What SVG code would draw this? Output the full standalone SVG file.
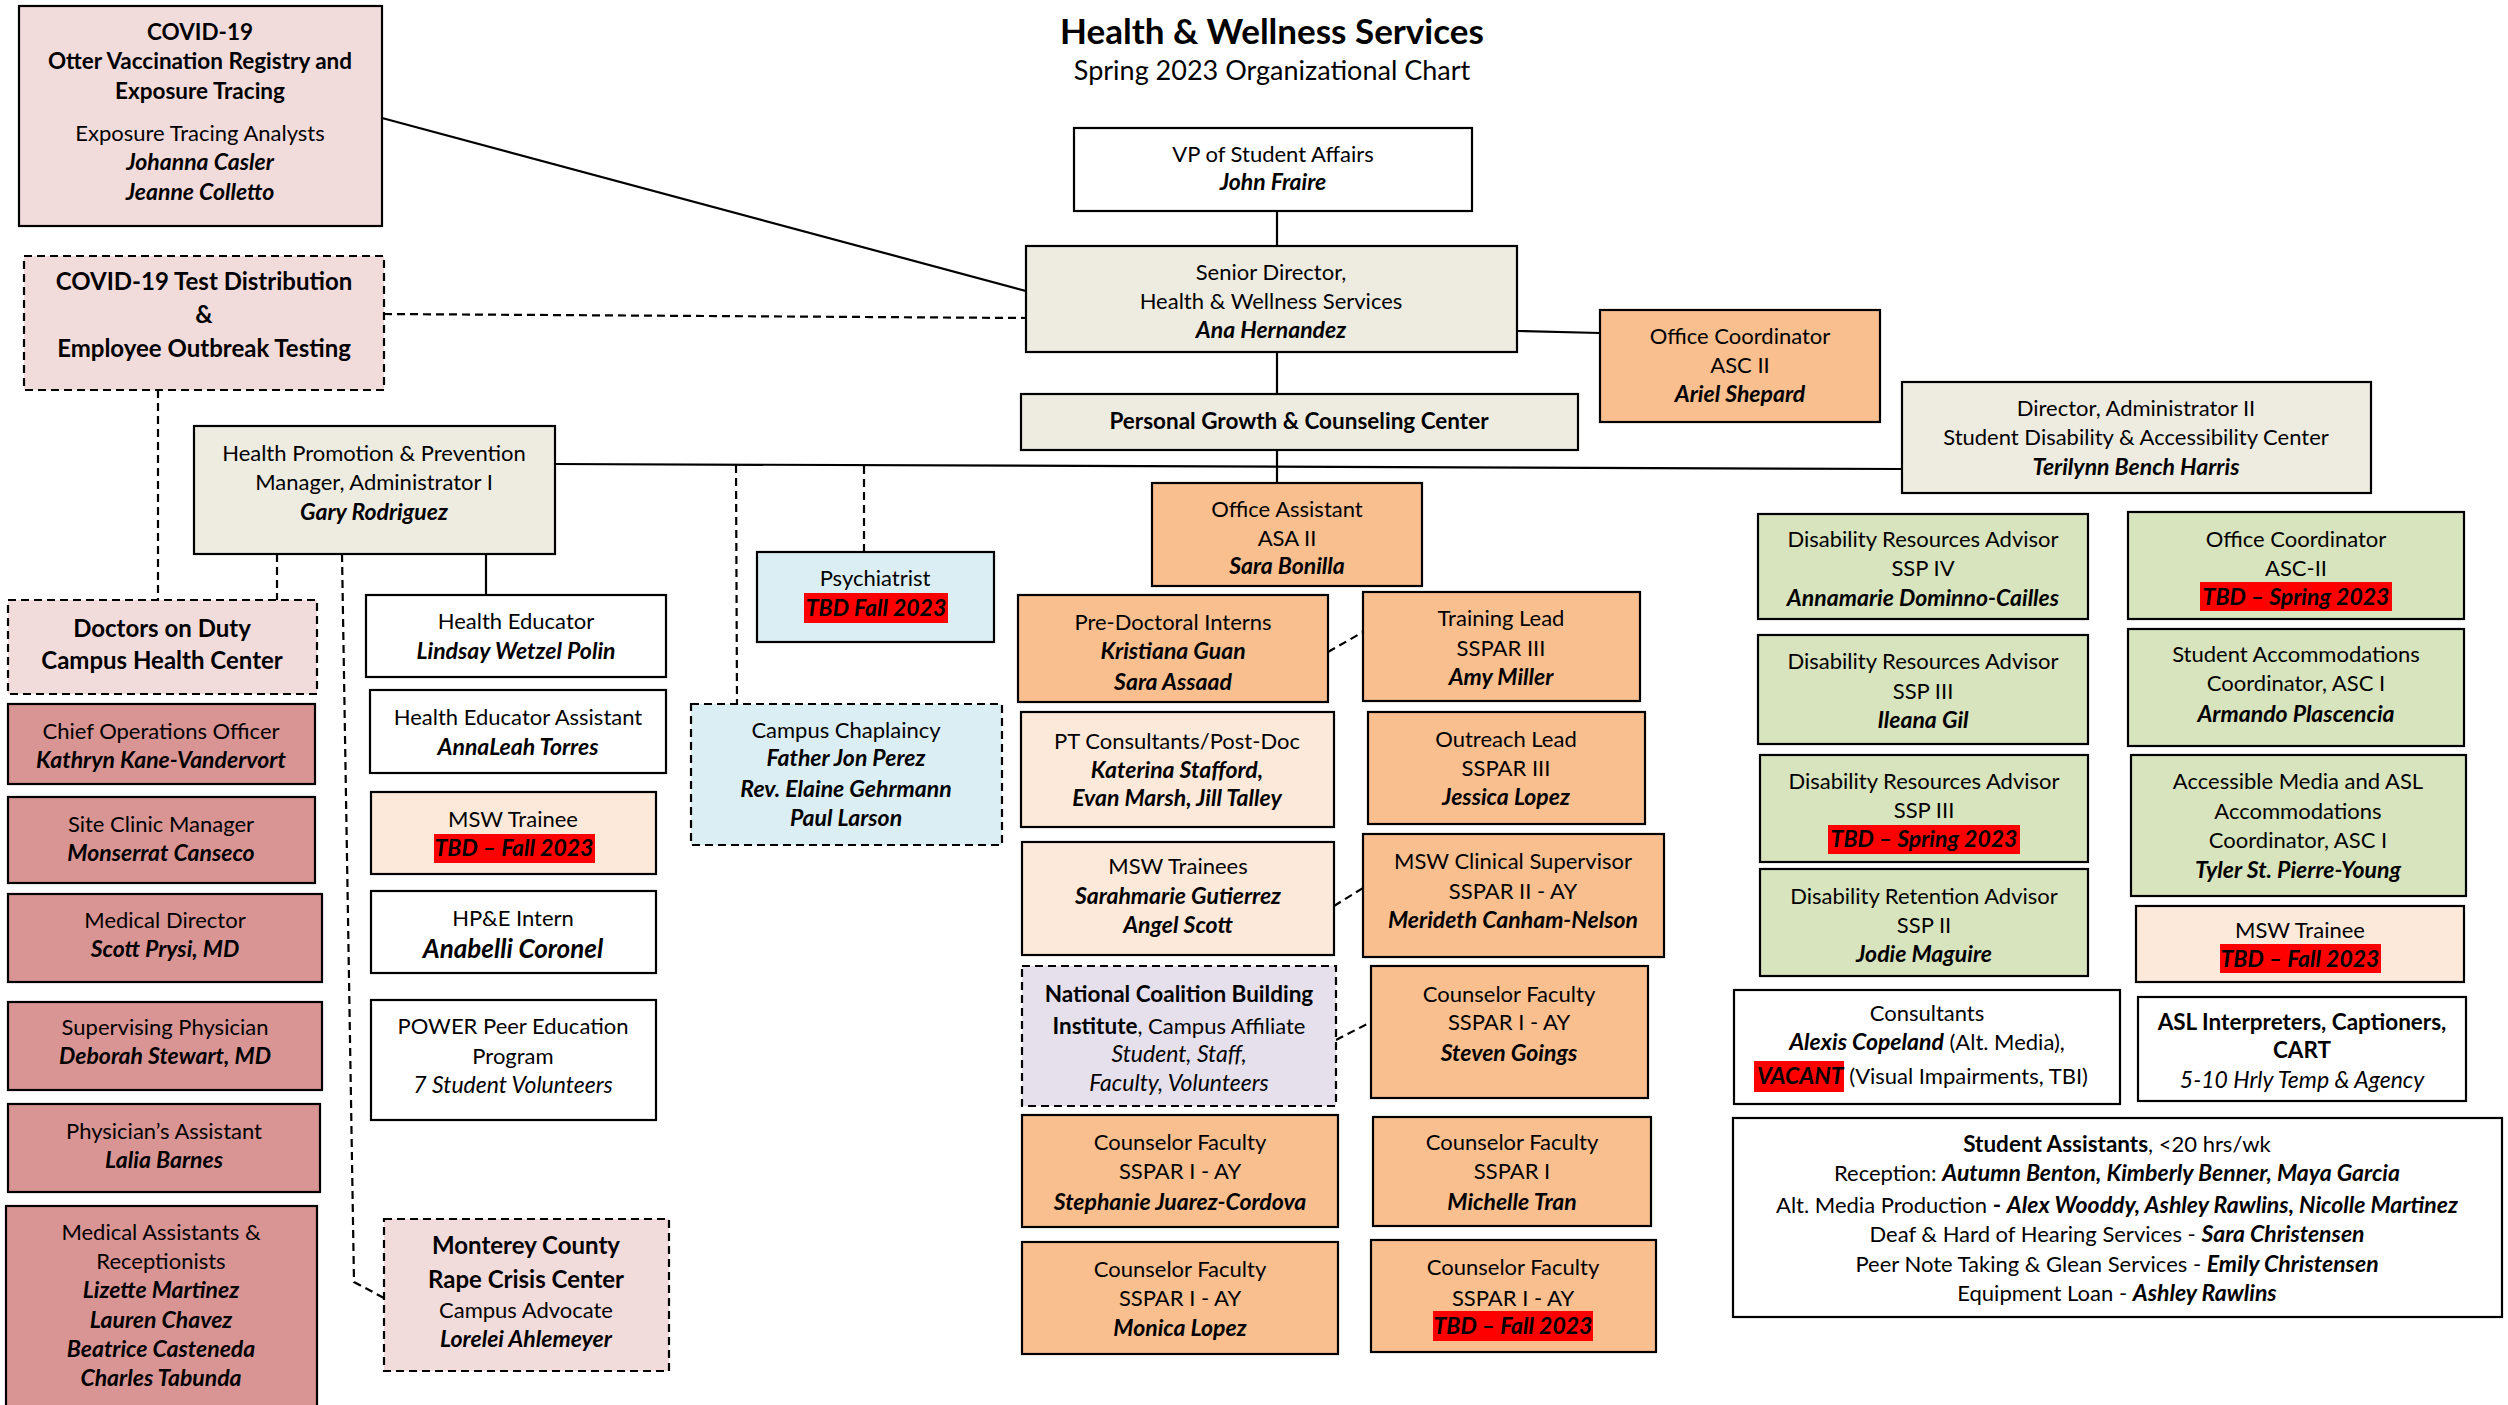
<svg xmlns="http://www.w3.org/2000/svg" width="2508" height="1405" viewBox="0 0 2508 1405">
<style>
text{font-family:Lato,"Liberation Sans",sans-serif;font-size:22px;text-anchor:middle;fill:#000}
.n{font-weight:bold;font-style:italic;font-size:23px}
.b{font-weight:bold;font-size:22.5px}
.i{font-style:italic;font-size:23px}
.big{font-size:24px;font-weight:bold}
rect.bx{stroke:#000;stroke-width:2.2}
.d{stroke-dasharray:8 5}
.white{fill:#fff}.beige{fill:#EEECE1}.orange{fill:#F9BF8F}.peach{fill:#FDE9D9}.pink{fill:#F2DCDB}.rose{fill:#D99594}.blue{fill:#DBEEF3}.green{fill:#D7E4BD}.lav{fill:#E5E0EC}
rect.hl{fill:#FF0000}
.c line,.c polyline{stroke:#000;stroke-width:2.2;fill:none}
</style>
<rect width="2508" height="1405" fill="#fff"/>
<g id="title">
<text x="1272" y="44" style="font-size:35px;font-weight:bold">Health &amp; Wellness Services</text>
<text x="1272" y="80" style="font-size:27px">Spring 2023 Organizational Chart</text>
</g>
<g class="c" id="connectors">
<line x1="382" y1="118" x2="1026" y2="291"/>
<line class="d" x1="384" y1="314" x2="1026" y2="318"/>
<line x1="1277" y1="211" x2="1277" y2="246"/>
<line x1="1277" y1="352" x2="1277" y2="394"/>
<line x1="1517" y1="331" x2="1600" y2="333"/>
<line x1="1277" y1="450" x2="1277" y2="483"/>
<line x1="555" y1="464" x2="1902" y2="469"/>
<line class="d" x1="158" y1="390" x2="158" y2="600"/>
<line class="d" x1="277" y1="554" x2="277" y2="600"/>
<polyline class="d" points="342,554 354,1282 384,1298"/>
<line x1="486" y1="554" x2="486" y2="595"/>
<line class="d" x1="736" y1="465" x2="737" y2="704"/>
<line class="d" x1="864" y1="466" x2="864" y2="552"/>
<line class="d" x1="1328" y1="652" x2="1363" y2="632"/>
<line class="d" x1="1334" y1="906" x2="1363" y2="888"/>
<line class="d" x1="1336" y1="1040" x2="1371" y2="1022"/>
</g>
<g id="vp"><rect class="bx white" x="1074" y="128" width="398" height="83"/>
<text x="1273" y="162">VP of Student Affairs</text><text class="n" x="1273" y="190">John Fraire</text></g>
<g id="senior"><rect class="bx beige" x="1026" y="246" width="491" height="106"/>
<text x="1271" y="280">Senior Director,</text><text x="1271" y="309">Health &amp; Wellness Services</text><text class="n" x="1271" y="338">Ana Hernandez</text></g>
<g id="officecoord"><rect class="bx orange" x="1600" y="310" width="280" height="112"/>
<text x="1740" y="344">Office Coordinator</text><text x="1740" y="373">ASC II</text><text class="n" x="1740" y="402">Ariel Shepard</text></g>
<g id="pgcc"><rect class="bx beige" x="1021" y="394" width="557" height="56"/>
<text class="b" x="1299" y="429">Personal Growth &amp; Counseling Center</text></g>
<g id="otter"><rect class="bx pink" x="19" y="6" width="363" height="220"/>
<text class="b" x="200" y="40">COVID-19</text><text class="b" x="200" y="69">Otter Vaccination Registry and</text><text class="b" x="200" y="99">Exposure Tracing</text>
<text x="200" y="141">Exposure Tracing Analysts</text><text class="n" x="200" y="170">Johanna Casler</text><text class="n" x="200" y="200">Jeanne Colletto</text></g>
<g id="testdist"><rect class="bx pink d" x="24" y="256" width="360" height="134"/>
<text class="big" x="204" y="290">COVID-19 Test Distribution</text><text class="big" x="204" y="323">&amp;</text><text class="big" x="204" y="357">Employee Outbreak Testing</text></g>
<g id="hpp"><rect class="bx beige" x="194" y="426" width="361" height="128"/>
<text x="374" y="461">Health Promotion &amp; Prevention</text><text x="374" y="490">Manager, Administrator I</text><text class="n" x="374" y="520">Gary Rodriguez</text></g>
<g id="doctors"><rect class="bx pink d" x="8" y="600" width="309" height="94"/>
<text class="big" x="162" y="637">Doctors on Duty</text><text class="big" x="162" y="669">Campus Health Center</text></g>
<g id="coo"><rect class="bx rose" x="8" y="704" width="307" height="80"/>
<text x="161" y="739">Chief Operations Officer</text><text class="n" x="161" y="768">Kathryn Kane-Vandervort</text></g>
<g id="siteclinic"><rect class="bx rose" x="8" y="797" width="307" height="86"/>
<text x="161" y="832">Site Clinic Manager</text><text class="n" x="161" y="861">Monserrat Canseco</text></g>
<g id="meddir"><rect class="bx rose" x="8" y="894" width="314" height="88"/>
<text x="165" y="928">Medical Director</text><text class="n" x="165" y="957">Scott Prysi, MD</text></g>
<g id="supphys"><rect class="bx rose" x="8" y="1002" width="314" height="88"/>
<text x="165" y="1035">Supervising Physician</text><text class="n" x="165" y="1064">Deborah Stewart, MD</text></g>
<g id="pa"><rect class="bx rose" x="8" y="1104" width="312" height="88"/>
<text x="164" y="1139">Physician’s Assistant</text><text class="n" x="164" y="1168">Lalia Barnes</text></g>
<g id="medassist"><rect class="bx rose" x="6" y="1206" width="311" height="210"/>
<text x="161" y="1240">Medical Assistants &amp;</text><text x="161" y="1269">Receptionists</text><text class="n" x="161" y="1298">Lizette Martinez</text><text class="n" x="161" y="1328">Lauren Chavez</text><text class="n" x="161" y="1357">Beatrice Casteneda</text><text class="n" x="161" y="1386">Charles Tabunda</text></g>
<g id="healthed"><rect class="bx white" x="366" y="595" width="300" height="82"/>
<text x="516" y="629">Health Educator</text><text class="n" x="516" y="659">Lindsay Wetzel Polin</text></g>
<g id="healthedasst"><rect class="bx white" x="370" y="690" width="296" height="83"/>
<text x="518" y="725">Health Educator Assistant</text><text class="n" x="518" y="755">AnnaLeah Torres</text></g>
<g id="msw1"><rect class="bx peach" x="371" y="792" width="285" height="82"/>
<text x="513" y="827">MSW Trainee</text><rect class="hl" x="434" y="834" width="161" height="29"/><text class="n" x="514" y="856">TBD – Fall 2023</text></g>
<g id="intern"><rect class="bx white" x="371" y="891" width="285" height="82"/>
<text x="513" y="926">HP&amp;E Intern</text><text class="n" x="513" y="958" style="font-size:26px">Anabelli Coronel</text></g>
<g id="power"><rect class="bx white" x="371" y="1000" width="285" height="120"/>
<text x="513" y="1034">POWER Peer Education</text><text x="513" y="1064">Program</text><text class="i" x="513" y="1093">7 Student Volunteers</text></g>
<g id="monterey"><rect class="bx pink d" x="384" y="1219" width="285" height="152"/>
<text class="big" x="526" y="1254">Monterey County</text><text class="big" x="526" y="1288">Rape Crisis Center</text><text x="526" y="1318">Campus Advocate</text><text class="n" x="526" y="1347">Lorelei Ahlemeyer</text></g>
<g id="psych"><rect class="bx blue" x="757" y="552" width="237" height="90"/>
<text x="875" y="586">Psychiatrist</text><rect class="hl" x="804" y="593" width="144" height="30"/><text class="n" x="876" y="616">TBD Fall 2023</text></g>
<g id="chaplaincy"><rect class="bx blue d" x="691" y="704" width="311" height="141"/>
<text x="846" y="738">Campus Chaplaincy</text><text class="n" x="846" y="766">Father Jon Perez</text><text class="n" x="846" y="797">Rev. Elaine Gehrmann</text><text class="n" x="846" y="826">Paul Larson</text></g>
<g id="officeasst"><rect class="bx orange" x="1152" y="483" width="270" height="103"/>
<text x="1287" y="517">Office Assistant</text><text x="1287" y="546">ASA II</text><text class="n" x="1287" y="574">Sara Bonilla</text></g>
<g id="predoc"><rect class="bx orange" x="1018" y="595" width="310" height="107"/>
<text x="1173" y="630">Pre-Doctoral Interns</text><text class="n" x="1173" y="659">Kristiana Guan</text><text class="n" x="1173" y="690">Sara Assaad</text></g>
<g id="training"><rect class="bx orange" x="1363" y="592" width="277" height="109"/>
<text x="1501" y="626">Training Lead</text><text x="1501" y="656">SSPAR III</text><text class="n" x="1501" y="685">Amy Miller</text></g>
<g id="ptconsult"><rect class="bx peach" x="1021" y="712" width="313" height="115"/>
<text x="1177" y="749">PT Consultants/Post-Doc</text><text class="n" x="1177" y="778">Katerina Stafford,</text><text class="n" x="1177" y="806">Evan Marsh, Jill Talley</text></g>
<g id="outreach"><rect class="bx orange" x="1368" y="712" width="277" height="112"/>
<text x="1506" y="747">Outreach Lead</text><text x="1506" y="776">SSPAR III</text><text class="n" x="1506" y="805">Jessica Lopez</text></g>
<g id="mswtrainees"><rect class="bx peach" x="1022" y="842" width="312" height="113"/>
<text x="1178" y="874">MSW Trainees</text><text class="n" x="1178" y="904">Sarahmarie Gutierrez</text><text class="n" x="1178" y="933">Angel Scott</text></g>
<g id="mswclinical"><rect class="bx orange" x="1363" y="834" width="301" height="123"/>
<text x="1513" y="869">MSW Clinical Supervisor</text><text x="1513" y="899">SSPAR II - AY</text><text class="n" x="1513" y="928">Merideth Canham-Nelson</text></g>
<g id="ncbi"><rect class="bx lav d" x="1022" y="966" width="314" height="140"/>
<text class="b" x="1179" y="1002">National Coalition Building</text><text x="1179" y="1034"><tspan class="b">Institute</tspan>, Campus Affiliate</text><text class="i" x="1179" y="1062">Student, Staff,</text><text class="i" x="1179" y="1091">Faculty, Volunteers</text></g>
<g id="steven"><rect class="bx orange" x="1371" y="966" width="277" height="132"/>
<text x="1509" y="1002">Counselor Faculty</text><text x="1509" y="1030">SSPAR I - AY</text><text class="n" x="1509" y="1061">Steven Goings</text></g>
<g id="stephanie"><rect class="bx orange" x="1022" y="1115" width="316" height="112"/>
<text x="1180" y="1150">Counselor Faculty</text><text x="1180" y="1179">SSPAR I - AY</text><text class="n" x="1180" y="1210">Stephanie Juarez-Cordova</text></g>
<g id="michelle"><rect class="bx orange" x="1373" y="1117" width="278" height="109"/>
<text x="1512" y="1150">Counselor Faculty</text><text x="1512" y="1179">SSPAR I</text><text class="n" x="1512" y="1210">Michelle Tran</text></g>
<g id="monica"><rect class="bx orange" x="1022" y="1242" width="316" height="112"/>
<text x="1180" y="1277">Counselor Faculty</text><text x="1180" y="1306">SSPAR I - AY</text><text class="n" x="1180" y="1336">Monica Lopez</text></g>
<g id="counselortbd"><rect class="bx orange" x="1371" y="1240" width="285" height="112"/>
<text x="1513" y="1275">Counselor Faculty</text><text x="1513" y="1306">SSPAR I - AY</text><rect class="hl" x="1433" y="1311" width="160" height="30"/><text class="n" x="1513" y="1334">TBD – Fall 2023</text></g>
<g id="director"><rect class="bx beige" x="1902" y="382" width="469" height="111"/>
<text x="2136" y="416">Director, Administrator II</text><text x="2136" y="445">Student Disability &amp; Accessibility Center</text><text class="n" x="2136" y="475">Terilynn Bench Harris</text></g>
<g id="dra4"><rect class="bx green" x="1758" y="514" width="330" height="105"/>
<text x="1923" y="547">Disability Resources Advisor</text><text x="1923" y="576">SSP IV</text><text class="n" x="1923" y="606">Annamarie Dominno-Cailles</text></g>
<g id="ocgreen"><rect class="bx green" x="2128" y="512" width="336" height="107"/>
<text x="2296" y="547">Office Coordinator</text><text x="2296" y="576">ASC-II</text><rect class="hl" x="2200" y="582" width="192" height="29"/><text class="n" x="2296" y="605">TBD – Spring 2023</text></g>
<g id="dra3a"><rect class="bx green" x="1758" y="635" width="330" height="109"/>
<text x="1923" y="669">Disability Resources Advisor</text><text x="1923" y="699">SSP III</text><text class="n" x="1923" y="728">Ileana Gil</text></g>
<g id="studentaccom"><rect class="bx green" x="2128" y="629" width="336" height="117"/>
<text x="2296" y="662">Student Accommodations</text><text x="2296" y="691">Coordinator, ASC I</text><text class="n" x="2296" y="722">Armando Plascencia</text></g>
<g id="dra3b"><rect class="bx green" x="1760" y="755" width="328" height="107"/>
<text x="1924" y="789">Disability Resources Advisor</text><text x="1924" y="818">SSP III</text><rect class="hl" x="1828" y="825" width="192" height="29"/><text class="n" x="1924" y="847">TBD – Spring 2023</text></g>
<g id="accessible"><rect class="bx green" x="2131" y="755" width="335" height="141"/>
<text x="2298" y="789">Accessible Media and ASL</text><text x="2298" y="819">Accommodations</text><text x="2298" y="848">Coordinator, ASC I</text><text class="n" x="2298" y="878">Tyler St. Pierre-Young</text></g>
<g id="retention"><rect class="bx green" x="1760" y="869" width="328" height="107"/>
<text x="1924" y="904">Disability Retention Advisor</text><text x="1924" y="933">SSP II</text><text class="n" x="1924" y="962">Jodie Maguire</text></g>
<g id="msw2"><rect class="bx peach" x="2136" y="906" width="328" height="76"/>
<text x="2300" y="938">MSW Trainee</text><rect class="hl" x="2220" y="944" width="161" height="29"/><text class="n" x="2300" y="967">TBD – Fall 2023</text></g>
<g id="consultants"><rect class="bx white" x="1734" y="990" width="386" height="114"/>
<text x="1927" y="1021">Consultants</text><text x="1927" y="1050"><tspan class="n">Alexis Copeland</tspan> (Alt. Media),</text>
<rect class="hl" x="1754" y="1061" width="90" height="31"/><text x="1757" y="1084" style="text-anchor:start"><tspan class="n">VACANT</tspan> (Visual Impairments, TBI)</text></g>
<g id="asl"><rect class="bx white" x="2138" y="997" width="328" height="104"/>
<text class="b" x="2302" y="1030">ASL Interpreters, Captioners,</text><text class="b" x="2302" y="1058">CART</text><text class="i" x="2302" y="1088">5-10 Hrly Temp &amp; Agency</text></g>
<g id="studentassistants"><rect class="bx white" x="1733" y="1118" width="769" height="199"/>
<text x="2117" y="1152"><tspan class="b">Student Assistants</tspan>, &lt;20 hrs/wk</text>
<text x="2117" y="1181">Reception: <tspan class="n">Autumn Benton, Kimberly Benner, Maya Garcia</tspan></text>
<text x="2117" y="1213">Alt. Media Production <tspan class="b">-</tspan> <tspan class="n">Alex Wooddy, Ashley Rawlins, Nicolle Martinez</tspan></text>
<text x="2117" y="1242">Deaf &amp; Hard of Hearing Services - <tspan class="n">Sara Christensen</tspan></text>
<text x="2117" y="1272">Peer Note Taking &amp; Glean Services - <tspan class="n">Emily Christensen</tspan></text>
<text x="2117" y="1301">Equipment Loan - <tspan class="n">Ashley Rawlins</tspan></text></g>
</svg>
